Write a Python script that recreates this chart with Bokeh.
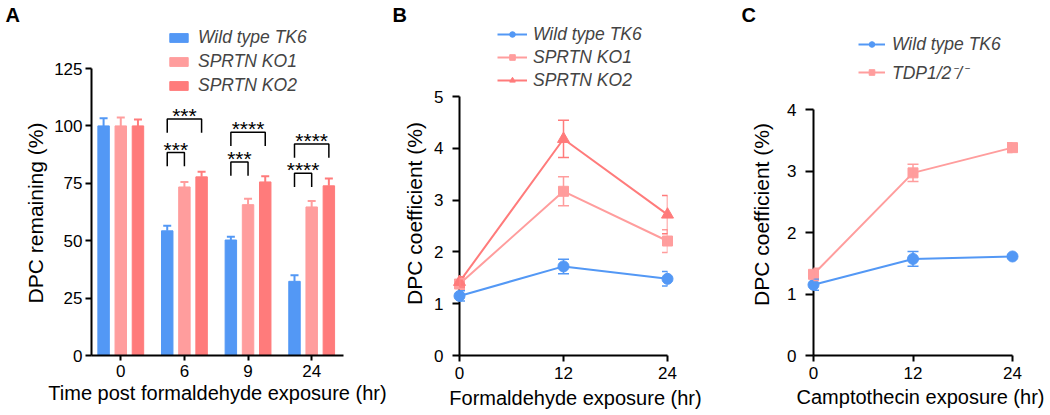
import numpy as np
from bokeh.plotting import figure
from bokeh.models import (ColumnDataSource, Range1d, FixedTicker, Legend, LegendItem,
                          Whisker, TeeHead)
from bokeh.layouts import row
from bokeh.embed import file_html
from bokeh.resources import INLINE
from bokeh.core.properties import value

# ---------------- data ----------------
# Panel A : DPC remaining (%) after formaldehyde
time_labels_a = ["0", "6", "9", "24"]
strains_a = ["Wild type TK6", "SPRTN KO1", "SPRTN KO2"]
wt_a = [100, 54.3, 50.3, 32.3]
wt_a_err = [3.3, 2.2, 1.4, 2.6]
ko1_a = [100, 73.4, 65.7, 64.7]
ko1_a_err = [3.7, 2.2, 2.6, 2.6]
ko2_a = [100, 77.8, 75.6, 73.9]
ko2_a_err = [2.8, 2.2, 2.5, 3.2]
# significance brackets (group index, compared strain index, bracket level, label)
sig_group = [1, 1, 2, 2, 3, 3]
sig_target = [1, 2, 1, 2, 1, 2]
sig_level = [88.4, 103.0, 84.3, 97.2, 79.4, 92.1]
sig_text = ["***", "***", "***", "****", "****", "****"]
yticks_a = [0, 25, 50, 75, 100, 125]

# Panel B : DPC coefficient after formaldehyde
hours_b = [0, 12, 24]
strains_b = ["Wild type TK6", "SPRTN KO1", "SPRTN KO2"]
wt_b = [1.15, 1.72, 1.48]
wt_b_err = [0.10, 0.14, 0.14]
ko1_b = [1.38, 3.17, 2.21]
ko1_b_err = [0.10, 0.28, 0.22]
ko2_b = [1.42, 4.18, 2.72]
ko2_b_err = [0.10, 0.36, 0.37]
yticks_b = [0, 1, 2, 3, 4, 5]

# Panel C : DPC coefficient after camptothecin
hours_c = [0, 12, 24]
strains_c = ["Wild type TK6", "TDP1/2\u207b/\u207b"]
wt_c = [1.15, 1.57, 1.61]
wt_c_err = [0.09, 0.12, 0.03]
tdp_c = [1.32, 2.97, 3.38]
tdp_c_err = [0.10, 0.14, 0.08]
yticks_c = [0, 1, 2, 3, 4]

# ---------------- style ----------------
FONT = "Liberation Sans"
BLUE = "#5398F5"
PINK = "#FF9D9D"
RED = "#FF7B7B"
HEIGHT = 415
FRAME_H = 355           # frames span page y 0..355 (x axis at 355)
BOTTOM = HEIGHT - FRAME_H
TEXT_SHIFT = 7          # measured offset of the rendered baseline


def make_fig(width, xr, yr, left, right, page_x):
    p = figure(width=width, height=HEIGHT, x_range=xr, y_range=yr,
               output_backend="svg", toolbar_location=None,
               min_border_left=left, min_border_right=right,
               min_border_top=0, min_border_bottom=BOTTOM)
    p.outline_line_color = None
    p.grid.visible = False
    p.background_fill_color = "white"
    p.border_fill_color = "white"
    for ax in (p.xaxis[0], p.yaxis[0]):
        ax.axis_line_width = 2
        ax.axis_line_color = "black"
        ax.major_tick_line_width = 2
        ax.major_tick_line_color = "black"
        ax.major_tick_in = 0
        ax.minor_tick_line_color = None
        ax.major_label_text_font = FONT
        ax.major_label_text_font_size = "17px"
        ax.major_label_text_color = "black"
    # geometry used to place free text (page pixel -> data)
    p.tags = [page_x + left, width - left - right]
    return p


def page_text(p, px, py, text, size, angle=0.0, bold=False, align="center"):
    if angle:
        px -= TEXT_SHIFT + 3
    else:
        py -= TEXT_SHIFT
    fl, fw = p.tags
    xr, yr = p.x_range, p.y_range
    xd = xr.start + (px - fl) * (xr.end - xr.start) / fw
    yd = yr.start + (FRAME_H - py) * (yr.end - yr.start) / FRAME_H
    p.text(x=[xd], y=[yd], text=[text], angle=angle, text_align=align,
           text_baseline="alphabetic", text_font=value(FONT), text_font_size=size,
           text_color="black", text_font_style="bold" if bold else "normal",
           level="overlay")


def style_legend(leg, gw, gh, spacing, standoff):
    leg.glyph_width = gw
    leg.glyph_height = gh
    leg.spacing = spacing
    leg.label_standoff = standoff
    leg.padding = 0
    leg.margin = 0
    leg.border_line_color = None
    leg.background_fill_alpha = 0
    leg.label_text_font = FONT
    leg.label_text_font_style = "italic"
    leg.label_text_font_size = "17.5px"
    leg.label_height = 20


# ================= Panel A (page x 0..389) =================
# 125 % sits at page y 68
pa = make_fig(389, Range1d(-0.46, 3.5), Range1d(0, 125 * FRAME_H / (FRAME_H - 68)), 91, 46, 0)
idx = list(range(len(time_labels_a)))
offs = [-0.27, 0.0, 0.27]
colors_a = [BLUE, PINK, RED]
vals_a = [wt_a, ko1_a, ko2_a]
errs_a = [wt_a_err, ko1_a_err, ko2_a_err]
bars = []
for k in range(3):
    src = ColumnDataSource(dict(
        x=[i + offs[k] for i in idx],
        v=vals_a[k],
        up=[v + e for v, e in zip(vals_a[k], errs_a[k])]))
    pa.add_layout(Whisker(source=src, base="x", upper="up", lower="v",
                          line_color=colors_a[k], line_width=2, lower_head=None,
                          upper_head=TeeHead(size=8, line_color=colors_a[k], line_width=2),
                          level="overlay"))
    r = pa.vbar(x="x", top="v", width=0.18, source=src,
                fill_color=colors_a[k], line_color=colors_a[k], line_width=1)
    bars.append(r)

leg_h = 6.0
bxs, bys, tx, ty = [], [], [], []
for g, t, lv in zip(sig_group, sig_target, sig_level):
    x0 = g + offs[0]
    x1 = g + offs[t]
    bxs.append([x0, x0, x1, x1])
    bys.append([lv - leg_h, lv, lv, lv - leg_h])
    tx.append((x0 + x1) / 2)
    ty.append(lv + 1.5)
pa.multi_line(xs=bxs, ys=bys, line_color="black", line_width=1.5)
pa.text(x=tx, y=ty, text=sig_text, text_font=value(FONT), text_font_size="21px",
        text_align="center", text_baseline="alphabetic", text_color="black")

pa.xaxis.ticker = FixedTicker(ticks=idx)
pa.xaxis.major_label_overrides = {i: lab for i, lab in zip(idx, time_labels_a)}
pa.xaxis.major_tick_out = 5
pa.xaxis.major_label_standoff = 4
pa.yaxis.ticker = FixedTicker(ticks=yticks_a)
pa.yaxis.bounds = (yticks_a[0], yticks_a[-1])
pa.yaxis.major_tick_out = 6
pa.yaxis.major_label_standoff = 3

leg_a = Legend(items=[LegendItem(label=s, renderers=[r]) for s, r in zip(strains_a, bars)],
               location=(76, 259))
style_legend(leg_a, 23, 11, 3, 8)
pa.add_layout(leg_a)

page_text(pa, 45, 212.5, "DPC remaining (%)", "21px", angle=np.pi / 2)
page_text(pa, 217, 399.5, "Time post formaldehyde exposure (hr)", "20px")
page_text(pa, 5, 21.7, "A", "20px", bold=True, align="left")


# ================= Panel B / C helpers =================
def line_panel(p, hours, series, errs, colors, markers, sizes):
    items = []
    for vals, er, c, m, s in zip(series, errs, colors, markers, sizes):
        src = ColumnDataSource(dict(
            x=hours, v=vals,
            lo=[a - b for a, b in zip(vals, er)],
            hi=[a + b for a, b in zip(vals, er)]))
        p.add_layout(Whisker(source=src, base="x", upper="hi", lower="lo",
                             line_color=c, line_width=1.5,
                             upper_head=TeeHead(size=11, line_color=c, line_width=1.5),
                             lower_head=TeeHead(size=11, line_color=c, line_width=1.5),
                             level="overlay"))
        ln = p.line(x="x", y="v", source=src, line_color=c, line_width=2, level="overlay")
        sc = p.scatter(x="x", y="v", source=src, marker=m, size=s,
                       fill_color=c, line_color=c, level="overlay")
        items.append((ln, sc))
    return items


def setup_line_axes(p, hours, yticks, ytick_out):
    p.xaxis.ticker = FixedTicker(ticks=hours)
    p.xaxis.major_tick_out = 6
    p.xaxis.major_label_standoff = 5
    p.yaxis.ticker = FixedTicker(ticks=yticks)
    p.yaxis.bounds = (yticks[0], yticks[-1])
    p.yaxis.major_tick_out = ytick_out
    p.yaxis.major_label_standoff = 9


# ================= Panel B (page x 389..740) =================
# y=5 sits at page y 96
pb = make_fig(351, Range1d(0, 24), Range1d(0, 5 * FRAME_H / (FRAME_H - 96)), 70, 73, 389)
items_b = line_panel(pb, hours_b, [wt_b, ko1_b, ko2_b], [wt_b_err, ko1_b_err, ko2_b_err],
                     [BLUE, PINK, RED], ["circle", "square", "triangle"], [11, 10, 12])
setup_line_axes(pb, hours_b, yticks_b, 7)
leg_b = Legend(items=[LegendItem(label=s, renderers=list(rs)) for s, rs in zip(strains_b, items_b)],
               location=(38, 264.5))
style_legend(leg_b, 30, 14, 2, 6)
pb.add_layout(leg_b)
page_text(pb, 424, 213, "DPC coefficient (%)", "21px", angle=np.pi / 2)
page_text(pb, 575, 404, "Formaldehyde exposure (hr)", "20px")
page_text(pb, 392, 21.7, "B", "20px", bold=True, align="left")

# ================= Panel C (page x 740..1050) =================
# y=4 sits at page y 109
pc = make_fig(310, Range1d(0, 24), Range1d(0, 4 * FRAME_H / (FRAME_H - 109)), 73, 38, 740)
items_c = line_panel(pc, hours_c, [wt_c, tdp_c], [wt_c_err, tdp_c_err],
                     [BLUE, PINK], ["circle", "square"], [11, 10])
setup_line_axes(pc, hours_c, yticks_c, 8)
leg_c = Legend(items=[LegendItem(label=s, renderers=list(rs)) for s, rs in zip(strains_c, items_c)],
               location=(45, 271.5))
style_legend(leg_c, 27, 14, 5, 7)
pc.add_layout(leg_c)
page_text(pc, 771, 214, "DPC coefficient (%)", "21px", angle=np.pi / 2)
page_text(pc, 920, 403.3, "Camptothecin exposure (hr)", "20px")
page_text(pc, 741, 21.7, "C", "20px", bold=True, align="left")

layout = row(pa, pb, pc)
open("out.html", "w").write(file_html(layout, INLINE))
